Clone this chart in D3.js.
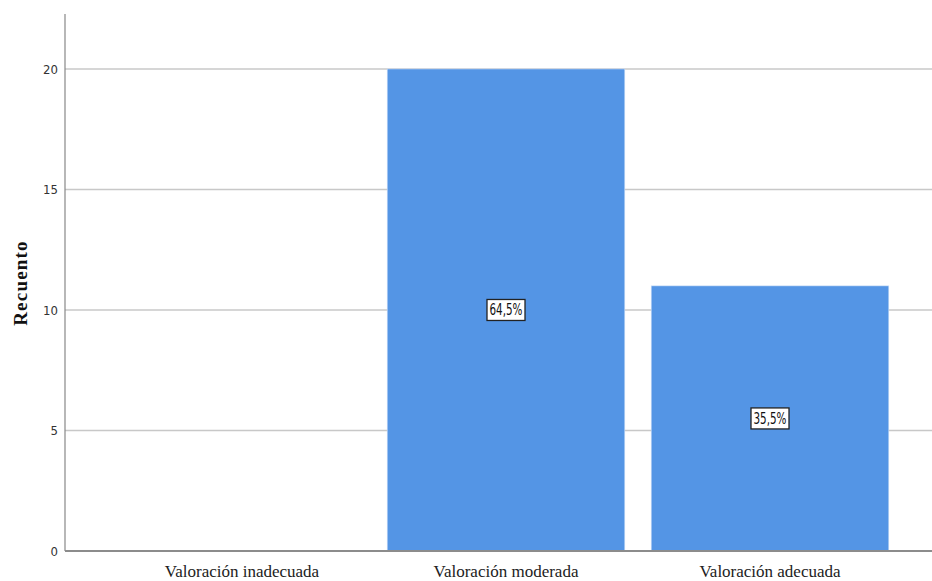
<!DOCTYPE html>
<html><head><meta charset="utf-8">
<script src="https://cdn.jsdelivr.net/npm/d3@7"></script>
<style>body{margin:0;background:#fff}</style>
</head><body>
<svg id="c" width="932" height="581"></svg>
<script>
const categories = ["Valoración inadecuada", "Valoración moderada", "Valoración adecuada"];
const counts = [0, 20, 11];
const pctLabels = ["", "64,5%", "35,5%"];
const yTicks = [0, 5, 10, 15, 20];
const yTitle = "Recuento";

(function () {
const svg = d3.select("#c");
const pL = 65, pR = 932, pT = 14, pB = 551;
const x = d3.scaleBand().domain(categories).range([110, 902]).paddingInner(0.1).paddingOuter(0.05);
const y = d3.scaleLinear().domain([0, 22.28]).range([pB, pT]);

// gridlines
svg.append("g").selectAll("line").data(yTicks.filter(d => d > 0)).join("line")
  .attr("x1", pL).attr("x2", pR).attr("y1", d => y(d)).attr("y2", d => y(d))
  .attr("stroke", "#c8c8c8").attr("stroke-width", 1.5);

// bars
svg.append("g").selectAll("rect").data(categories).join("rect")
  .attr("x", d => x(d)).attr("width", x.bandwidth())
  .attr("y", (d, i) => y(counts[i])).attr("height", (d, i) => pB - y(counts[i]))
  .attr("fill", "#5495e5").attr("stroke", "#cfe0f7").attr("stroke-width", 0.6);

// y axis line
svg.append("line").attr("x1", pL).attr("x2", pL).attr("y1", pT).attr("y2", pB)
  .attr("stroke", "#888").attr("stroke-width", 1.2);
// x axis line
svg.append("line").attr("x1", pL).attr("x2", pR).attr("y1", pB).attr("y2", pB)
  .attr("stroke", "#8c8c8c").attr("stroke-width", 2);

// y tick labels
svg.append("g").selectAll("text").data(yTicks).join("text")
  .attr("x", pL - 7).attr("y", d => y(d)).attr("dy", "0.35em")
  .attr("text-anchor", "end").attr("font-family", "'DejaVu Sans Condensed', 'DejaVu Sans', sans-serif")
  .attr("font-size", 13).attr("fill", "#333").text(d => d);

// category labels
svg.append("g").selectAll("text").data(categories).join("text")
  .attr("x", d => x(d) + x.bandwidth() / 2).attr("y", 571).attr("dy", "0.35em")
  .attr("text-anchor", "middle").attr("font-family", "'Liberation Serif', serif")
  .attr("font-size", 17).attr("fill", "#222").text(d => d);

// y title
svg.append("text").attr("transform", `translate(20,283) rotate(-90)`)
  .attr("text-anchor", "middle").attr("dy", "0.35em")
  .attr("font-family", "'Liberation Serif', serif").attr("font-weight", "bold")
  .attr("font-size", 19).attr("letter-spacing", 1.2).attr("fill", "#111").text(yTitle);

// percentage labels
const lab = svg.append("g").selectAll("g").data(categories.map((c, i) => ({c, v: counts[i], t: pctLabels[i]})).filter(d => d.t))
  .join("g").attr("transform", d => `translate(${x(d.c) + x.bandwidth() / 2},${(y(d.v) + y(0)) / 2})`);
lab.append("rect").attr("x", -19).attr("y", -10.5).attr("width", 38).attr("height", 21)
  .attr("fill", "#fff").attr("stroke", "#222").attr("stroke-width", 1.3);
lab.append("text").attr("text-anchor", "middle").attr("dy", "0.36em")
  .attr("font-family", "'DejaVu Sans Condensed', 'DejaVu Sans', sans-serif").attr("font-size", 15)
  .attr("textLength", 33).attr("lengthAdjust", "spacingAndGlyphs")
  .attr("fill", "#111").text(d => d.t);
})();
</script>
</body></html>
